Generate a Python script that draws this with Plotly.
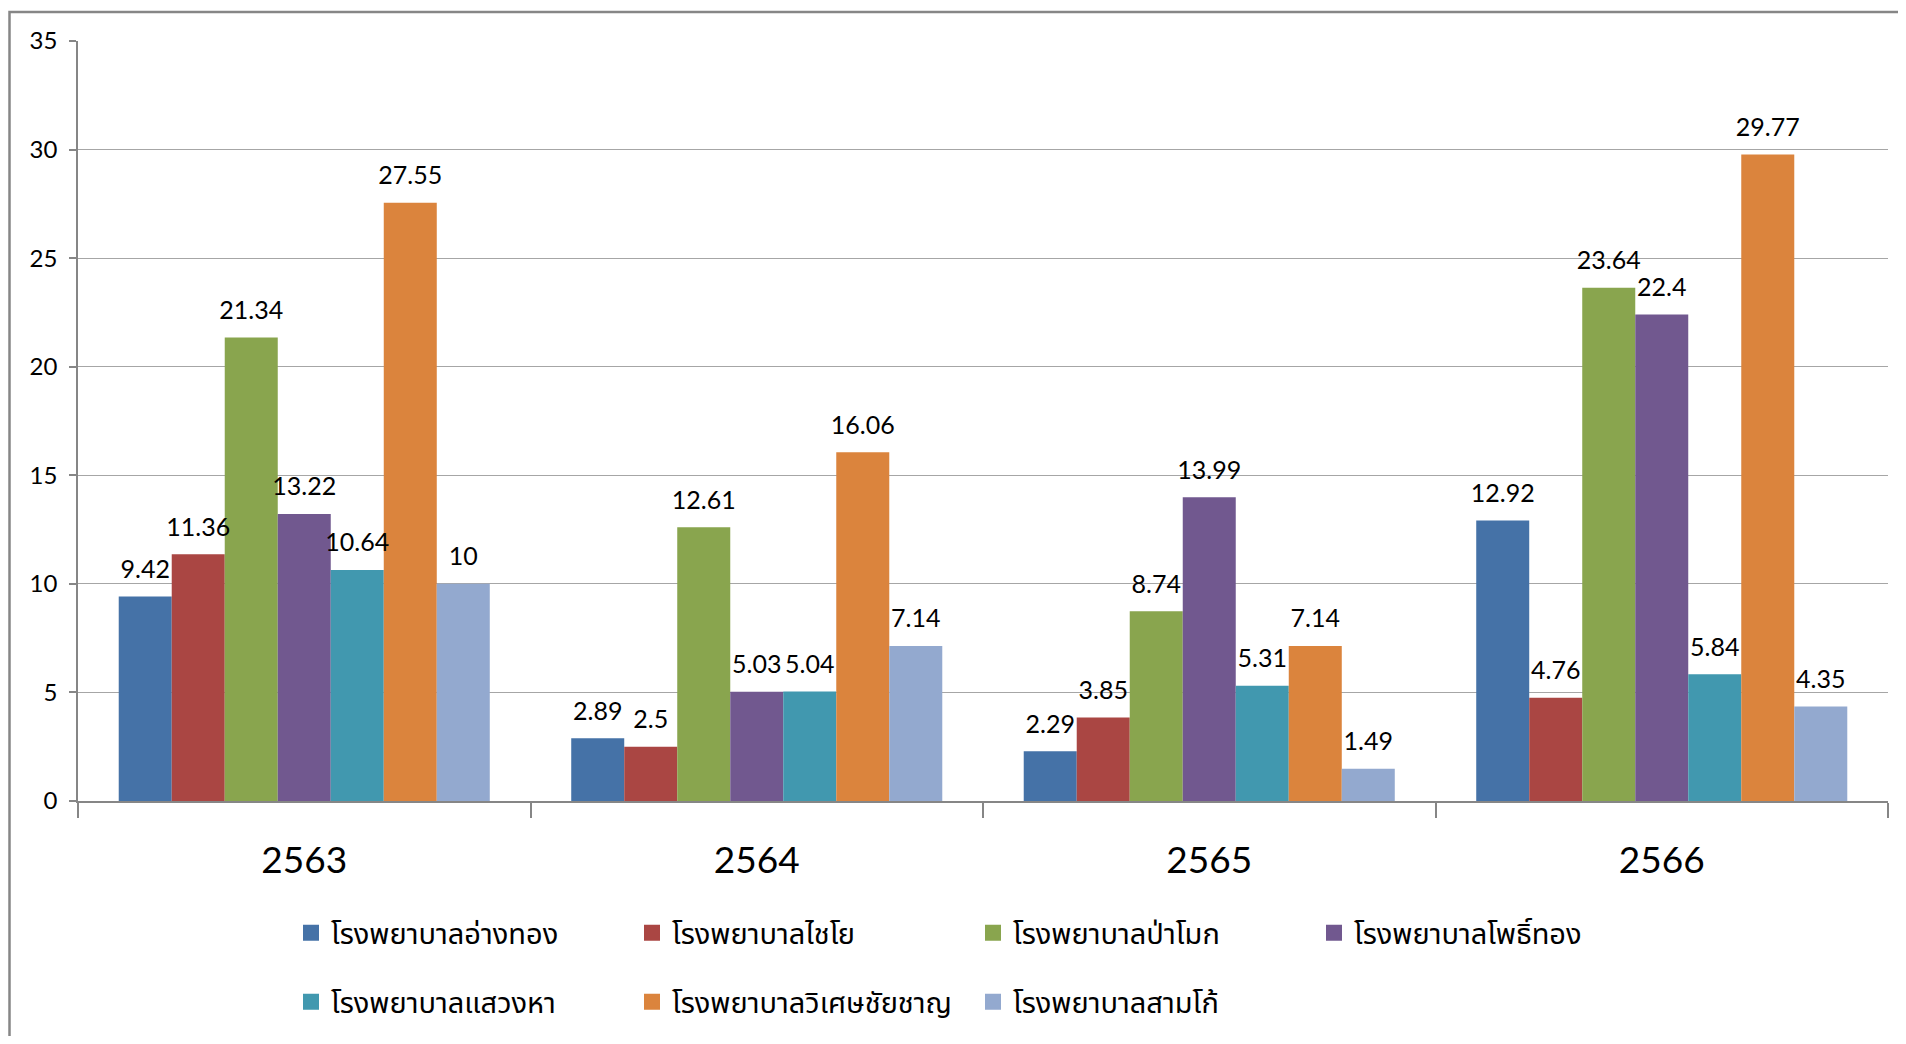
import plotly.graph_objects as go

years = ["2563", "2564", "2565", "2566"]
hospitals = [
    "โรงพยาบาลอ่างทอง",
    "โรงพยาบาลไชโย",
    "โรงพยาบาลป่าโมก",
    "โรงพยาบาลโพธิ์ทอง",
    "โรงพยาบาลแสวงหา",
    "โรงพยาบาลวิเศษชัยชาญ",
    "โรงพยาบาลสามโก้",
]
ang_thong = [9.42, 2.89, 2.29, 12.92]
chaiyo = [11.36, 2.5, 3.85, 4.76]
pa_mok = [21.34, 12.61, 8.74, 23.64]
pho_thong = [13.22, 5.03, 13.99, 22.4]
sawaeng_ha = [10.64, 5.04, 5.31, 5.84]
wiset_chai_chan = [27.55, 16.06, 7.14, 29.77]
samko = [10, 7.14, 1.49, 4.35]
series = [ang_thong, chaiyo, pa_mok, pho_thong, sawaeng_ha, wiset_chai_chan, samko]
colors = ["#4572A7", "#AA4643", "#89A54E", "#71588F", "#4198AF", "#DB843D", "#93A9CF"]
y_ticks = [0, 5, 10, 15, 20, 25, 30, 35]

FONT = "Lato, 'Noto Sans Thai', Tahoma, 'DejaVu Sans', sans-serif"

W, H = 1890, 1028
ML, MR, MT, MB = 70, 10, 33, 234
PW, PH = W - ML - MR, H - MT - MB
GAP = 0.18

fig = go.Figure()
for i, (name, vals, col) in enumerate(zip(hospitals, series, colors)):
    fig.add_trace(go.Bar(
        x=years, y=vals, name=name,
        marker=dict(color=col, line=dict(width=0)),
        offsetgroup=str(i), alignmentgroup="bars",
        showlegend=False,
    ))
for i, vals in enumerate(series):
    fig.add_trace(go.Scatter(
        x=years, y=vals, mode="markers+text",
        text=[f"{v:g}" for v in vals], textposition="top center",
        textfont=dict(size=25, color="#000000", family=FONT),
        marker=dict(size=18, opacity=0),
        offsetgroup=str(i), alignmentgroup="labels",
        showlegend=False, hoverinfo="skip", cliponaxis=False,
    ))
# legend entries (square swatches)
for i, (name, col) in enumerate(zip(hospitals, colors)):
    fig.add_trace(go.Scatter(
        x=[None], y=[None], mode="markers", name=name,
        marker=dict(symbol="square", size=16, color=col),
        legend="legend" if i < 4 else "legend2",
        offsetgroup="leg" + str(i), alignmentgroup="legend",
        hoverinfo="skip",
    ))

legend_common = dict(
    orientation="h", xanchor="left", yanchor="middle",
    font=dict(size=29, family=FONT),
    entrywidth=296, entrywidthmode="pixels",
    traceorder="normal", bgcolor="rgba(0,0,0,0)",
    itemsizing="trace",
)

fig.update_layout(
    width=W, height=H,
    barmode="group", bargap=GAP, bargroupgap=0,
    scattermode="group", scattergap=GAP,
    plot_bgcolor="white", paper_bgcolor="white",
    margin=dict(l=ML, r=MR, t=MT, b=MB),
    font=dict(family=FONT, color="#000000"),
    showlegend=True,
    legend=dict(x=(283 - ML) / PW, y=-(925 - (H - MB)) / PH, **legend_common),
    legend2=dict(x=(283 - ML) / PW, y=-(994 - (H - MB)) / PH, **legend_common),
    xaxis=dict(
        showline=True, linecolor="#868686", linewidth=1.5,
        ticks="outside", tickson="boundaries", ticklen=15, tickcolor="#868686", tickwidth=1.5,
        tickfont=dict(size=37, family=FONT),
        ticklabelstandoff=26,
        showgrid=False,
    ),
    yaxis=dict(
        range=[0, 35], tickvals=y_ticks,
        showline=True, linecolor="#868686", linewidth=1.5,
        ticks="outside", ticklen=7, tickcolor="#868686", tickwidth=1.5,
        showgrid=True, gridcolor="#a6a6a6", gridwidth=1.3,
        tickfont=dict(size=24, family=FONT),
        ticklabelstandoff=7,
        zeroline=False,
    ),
    shapes=[dict(type="rect", xref="paper", yref="paper",
                 x0=-(ML - 1.5) / PW, x1=1.05, y0=-0.5, y1=1 + (MT - 4) / PH,
                 line=dict(color="#868686", width=2.5), layer="below")],
)
fig.write_html("out.html")
